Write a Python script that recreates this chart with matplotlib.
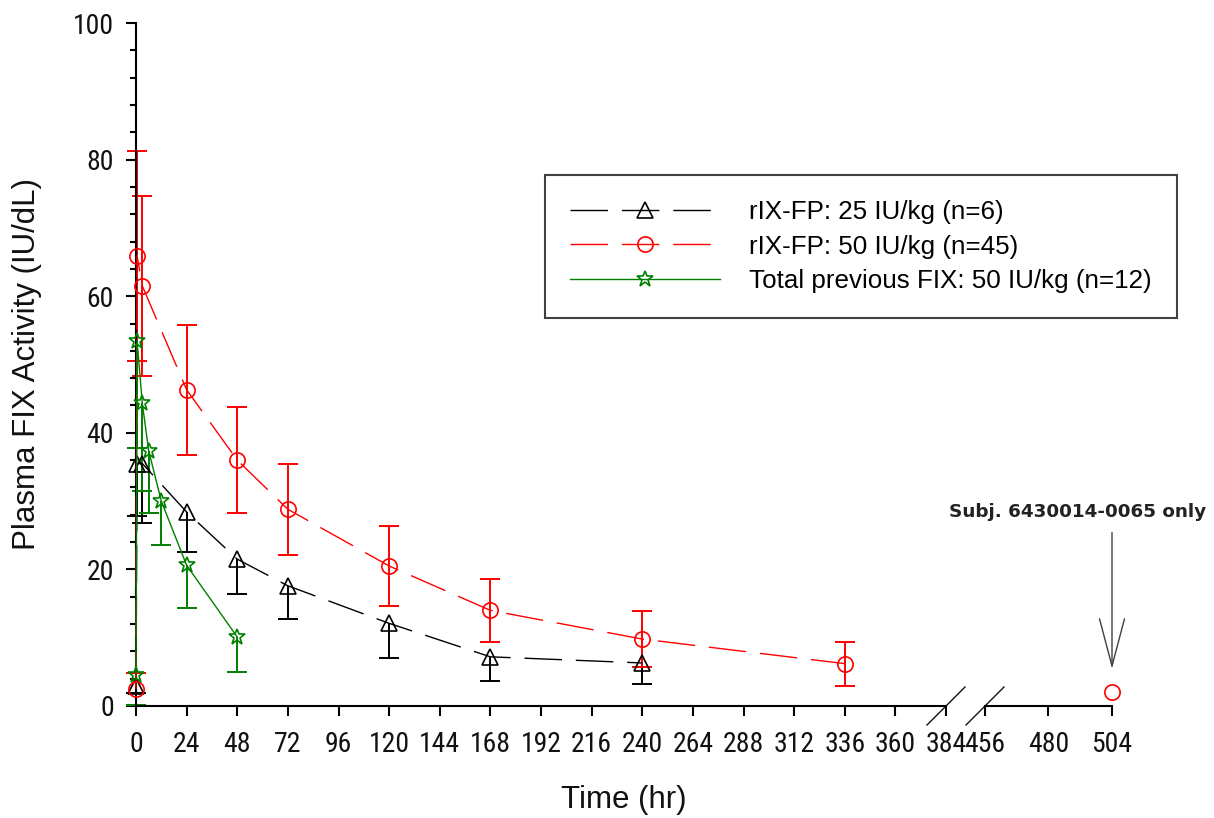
import numpy as np
import matplotlib
matplotlib.use("Agg")
import matplotlib.pyplot as plt
from matplotlib import font_manager as fm
from matplotlib.lines import Line2D

# ---------------- data ----------------
labels = ["rIX-FP: 25 IU/kg (n=6)",
          "rIX-FP: 50 IU/kg (n=45)",
          "Total previous FIX: 50 IU/kg (n=12)"]

t_25 = [0, 0.5, 3, 24, 48, 72, 120, 168, 240]
mean_25 = [3.0, 35.5, 35.5, 28.4, 21.5, 17.6, 12.1, 7.2, 6.3]
sd_25 = [1.1, 7.7, 8.7, 5.9, 5.1, 4.9, 5.1, 3.6, 3.1]

t_50 = [0, 0.5, 3, 24, 48, 72, 120, 168, 240, 336]
mean_50 = [2.5, 65.9, 61.5, 46.3, 36.0, 28.8, 20.5, 14.0, 9.8, 6.2]
sd_50 = [2.4, 15.4, 13.2, 9.5, 7.8, 6.7, 5.9, 4.6, 4.1, 3.2]

t_subj = [504]
mean_subj = [2.0]
subj_text = "Subj. 6430014-0065 only"

t_prev = [0, 0.5, 3, 6, 12, 24, 48]
mean_prev = [4.5, 53.5, 44.3, 37.4, 30.0, 20.6, 10.1]
sd_prev = [4.4, 15.7, 12.8, 9.1, 6.5, 6.2, 5.1]

xticks_left = [0, 24, 48, 72, 96, 120, 144, 168, 192, 216, 240, 264, 288,
               312, 336, 360, 384]
xticks_right = [456, 480, 504]
yticks = [0, 20, 40, 60, 80, 100]

xlabel = "Time (hr)"
ylabel = "Plasma FIX Activity (IU/dL)"

# ---------------- fonts ----------------
names = {f.name for f in fm.fontManager.ttflist}
narrow = next((n for n in ["Liberation Sans Narrow", "Arial Narrow",
                           "DejaVu Sans Condensed", "Roboto Condensed"]
               if n in names), "Liberation Sans")
regular = "Liberation Sans" if "Liberation Sans" in names else "DejaVu Sans"
plt.rcParams["font.family"] = [regular, "DejaVu Sans"]

# ---------------- figure & axes ----------------
W, H = 1214, 818
fig = plt.figure(figsize=(W / 100, H / 100), dpi=100)
x0, x1, x2, x3 = 136, 946, 985, 1112
ybot, ytop = 706, 23
axL = fig.add_axes([x0 / W, (H - ybot) / H, (x1 - x0) / W, (ybot - ytop) / H])
axR = fig.add_axes([x2 / W, (H - ybot) / H, (x3 - x2) / W, (ybot - ytop) / H],
                   sharey=axL)

DASH = (0, (27, 10))
RED, GREEN, BLACK = "#ff0000", "#008000", "#000000"


def series(ax, t, m, sd, color, marker, ms, ls, label, lower_only):
    sd = np.asarray(sd, float)
    yerr = [sd, np.zeros_like(sd)] if lower_only else sd
    eb = ax.errorbar(t, m, yerr=yerr, fmt="none", ecolor=color,
                     elinewidth=1.4, capsize=7.5, capthick=1.4, zorder=2)
    caps = eb.lines[1]
    if lower_only and len(caps) > 1:
        caps[1].set_visible(False)
    for a in list(caps) + list(eb.lines[2]):
        a.set_clip_on(False)
    ln, = ax.plot(t, m, color=color, lw=1.0, ls=ls, marker=marker, ms=ms,
                  mfc="none", mec=color, mew=1.2, clip_on=False, zorder=3,
                  label=label)
    return ln


h1 = series(axL, t_25, mean_25, sd_25, BLACK, "^", 12, DASH, labels[0], True)
h2 = series(axL, t_50, mean_50, sd_50, RED, "o", 11, DASH, labels[1], False)
h3 = series(axL, t_prev, mean_prev, sd_prev, GREEN, "*", 12, "-", labels[2], True)

axR.plot(t_subj, mean_subj, ls="none", marker="o", ms=11, mfc="none",
         mec=RED, mew=1.2, clip_on=False, zorder=3)

# annotation for the single subject point
axR.annotate("", xy=(t_subj[0], mean_subj[0]), xytext=(0, 115),
             textcoords="offset points", annotation_clip=False,
             arrowprops=dict(arrowstyle="->,head_length=3.4,head_width=0.9",
                             mutation_scale=10, shrinkA=0, shrinkB=17,
                             lw=1.0, color="#404040"))
axR.annotate(subj_text, xy=(t_subj[0], mean_subj[0]), xytext=(-24.5, 129.6),
             textcoords="offset points", ha="center", va="center",
             fontsize=13.2, fontweight="bold", family=["DejaVu Sans"],
             color="#222222", annotation_clip=False)

# ---------------- axes styling ----------------
axL.set_xlim(0, 384)
axR.set_xlim(456, 504)
axL.set_ylim(0, 100)
axL.set_xticks(xticks_left)
axR.set_xticks(xticks_right)
axL.set_yticks(yticks)
axL.set_yticks(np.arange(0, 101, 4), minor=True)

for ax in (axL, axR):
    ax.spines["top"].set_visible(False)
    ax.spines["right"].set_visible(False)
    for s in ax.spines.values():
        s.set_linewidth(1.5)
    ax.tick_params(axis="x", which="major", direction="out", length=7,
                   width=1.5, pad=11, labelsize=20, labelcolor="#111111")
    ax.set_facecolor("none")
    for lab in ax.get_xticklabels():
        lab.set_family([narrow, regular])

axL.tick_params(axis="y", which="major", direction="out", length=7, width=1.5,
                pad=9, labelsize=20, labelcolor="#111111")
axL.tick_params(axis="y", which="minor", direction="out", length=4.3, width=1.5)
for lab in axL.get_yticklabels():
    lab.set_family([narrow, regular])

axR.spines["left"].set_visible(False)
axR.tick_params(axis="y", which="both", left=False, labelleft=False)

# axis break marks
for ax, xa in ((axL, 1.0), (axR, 0.0)):
    bb = ax.get_position()
    dx = 19 / (bb.width * W)
    dy = 19 / (bb.height * H)
    ax.add_line(Line2D([xa - dx, xa + dx], [-dy, dy], transform=ax.transAxes,
                       color="#111111", lw=1.0, clip_on=False))

# axis labels
fig.text((x0 + x3) / 2 / W, 1 - 800 / H, xlabel, ha="center", va="center",
         fontsize=22.5, color="#111111")
fig.text(27 / W, 1 - (ybot + ytop) / 2 / H, ylabel, ha="center", va="center",
         rotation=90, fontsize=22.5, color="#111111")

# legend
leg = axL.legend(handles=[h1, h2, h3], loc="upper left",
                 bbox_to_anchor=(545 / W, 1 - 175 / H),
                 bbox_transform=fig.transFigure, fontsize=18.7,
                 handlelength=5.8, handletextpad=1.12, borderpad=0.95,
                 labelspacing=0.42, numpoints=1, fancybox=False,
                 frameon=True, borderaxespad=0)
leg.get_frame().set_edgecolor("#111111")
leg.get_frame().set_linewidth(1.5)

fig.savefig("out.png", dpi=100)
